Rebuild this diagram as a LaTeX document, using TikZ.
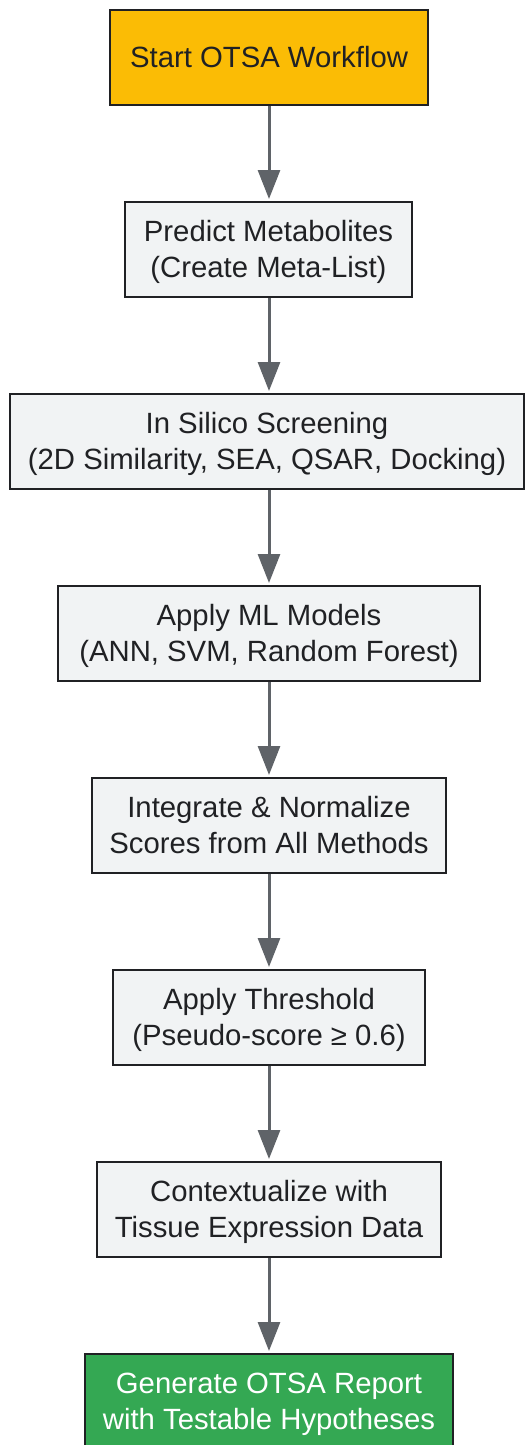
\documentclass[tikz,border=0pt]{standalone}
\usepackage{fontspec}
\setmainfont{Liberation Sans}
\usetikzlibrary{arrows.meta}
\definecolor{boxgray}{HTML}{F1F3F4}
\definecolor{startyel}{HTML}{FBBC05}
\definecolor{endgreen}{HTML}{34A853}
\definecolor{linegray}{HTML}{5F6368}
\definecolor{txt}{HTML}{202124}
\newsavebox{\twolbox}
\newcommand{\twol}[2]{\sbox{\twolbox}{\begin{tabular}{@{}c@{}}#1\\#2\end{tabular}}\raisebox{-3pt}[\ht\twolbox][\dp\twolbox]{\usebox{\twolbox}}}
\tikzset{
  x=1pt,y=-1pt,
  stepbox/.style={draw=txt, line width=2pt, fill=boxgray, text=txt, align=center,
    font=\fontsize{29.3}{36}\selectfont, inner sep=0pt, minimum height=95pt},
  flow/.style={draw=linegray, line width=3pt, -{Triangle[length=29pt,width=22pt]}, shorten >=2pt}
}
\begin{document}
\begin{tikzpicture}
\useasboundingbox (0,0) rectangle (525,1445);
\clip (0,0) rectangle (525,1445);
\node[stepbox, fill=startyel, minimum width=318pt] (n1) at (269,57.5) {Start OTSA Workflow};
\node[stepbox, minimum width=287pt] (n2) at (268.5,249.5) {\twol{Predict Metabolites}{(Create Meta-List)}};
\node[stepbox, minimum width=514pt] (n3) at (267,441.5) {\twol{In Silico Screening}{(2D Similarity, SEA, QSAR, Docking)}};
\node[stepbox, minimum width=422pt] (n4) at (269,633.5) {\twol{Apply ML Models}{(ANN, SVM, Random Forest)}};
\node[stepbox, minimum width=354pt] (n5) at (269,825.5) {\twol{Integrate \& Normalize}{Scores from All Methods}};
\node[stepbox, minimum width=312pt] (n6) at (269,1017.5) {\twol{Apply Threshold}{(Pseudo-score ≥ 0.6)}};
\node[stepbox, minimum width=344pt] (n7) at (269,1209.5) {\twol{Contextualize with}{Tissue Expression Data}};
\node[stepbox, fill=endgreen, text=white, minimum width=368pt] (n8) at (269,1401.5) {\twol{Generate OTSA Report}{with Testable Hypotheses}};
\coordinate (ax) at (269,0);
\draw[flow] (n1.south -| ax) -- (n2.north -| ax);
\draw[flow] (n2.south -| ax) -- (n3.north -| ax);
\draw[flow] (n3.south -| ax) -- (n4.north -| ax);
\draw[flow] (n4.south -| ax) -- (n5.north -| ax);
\draw[flow] (n5.south -| ax) -- (n6.north -| ax);
\draw[flow] (n6.south -| ax) -- (n7.north -| ax);
\draw[flow] (n7.south -| ax) -- (n8.north -| ax);
\end{tikzpicture}
\end{document}
